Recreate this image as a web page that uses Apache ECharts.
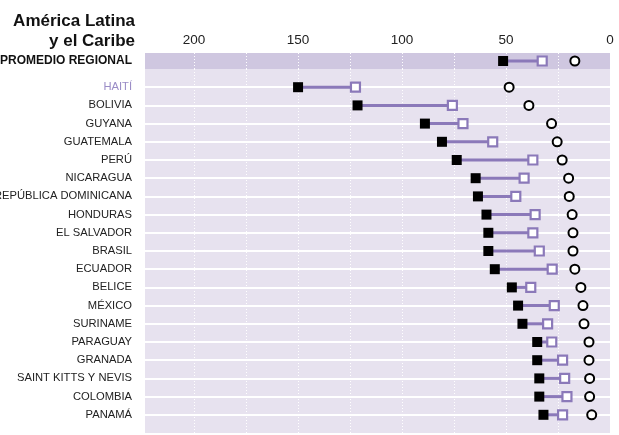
<!DOCTYPE html>
<html><head><meta charset="utf-8">
<script src="https://cdn.jsdelivr.net/npm/echarts@6/dist/echarts.min.js"></script>
<style>html,body{margin:0;padding:0;background:#fff}#c{width:619px;height:435px}</style>
</head><body><div id="c"></div>
<script>
// ---- data ----
const categories = ['HAITÍ','BOLIVIA','GUYANA','GUATEMALA','PERÚ','NICARAGUA','REPÚBLICA DOMINICANA','HONDURAS','EL SALVADOR','BRASIL','ECUADOR','BELICE','MÉXICO','SURINAME','PARAGUAY','GRANADA','SAINT KITTS Y NEVIS','COLOMBIA','PANAMÁ'];
const blackVals  = [150, 121.4, 89.0, 80.8, 73.7, 64.6, 63.5, 59.4, 58.5, 58.5, 55.4, 47.2, 44.2, 42.1, 35.0, 35.0, 34.0, 34.0, 32.0];
const hollowVals = [122.4, 75.8, 70.7, 56.4, 37.1, 41.3, 45.3, 36.0, 37.1, 34.0, 27.8, 38.1, 26.8, 30.0, 28.0, 22.8, 21.8, 20.7, 22.8];
const circleVals = [48.5, 39.0, 28.1, 25.4, 23.0, 19.9, 19.6, 18.2, 17.8, 17.8, 16.9, 14.0, 13.0, 12.5, 10.1, 10.1, 9.8, 9.8, 8.8];
const regionCategory = ['PROMEDIO REGIONAL'];
const regionBlack = [51.4];
const regionHollow = [32.6];
const regionCircle = [16.9];
const xTickLabels = [0, 50, 100, 150, 200];
const highlighted = 'HAITÍ';

// ---- font detection ----
function hasFont(name){
  const c = document.createElement('canvas').getContext('2d');
  const t = 'SAINT KITTS Y NEVIS 0123';
  c.font = '40px monospace'; const a = c.measureText(t).width;
  c.font = '40px "' + name + '", monospace'; const b = c.measureText(t).width;
  return Math.abs(a - b) > 0.5;
}
const narrow = hasFont('Liberation Sans Narrow');
const labFont = narrow ? '"Liberation Sans Narrow"' : '"Liberation Sans"';
const labSize = narrow ? 13 : 11.2;
const tickSize = narrow ? 16 : 13.5;

const purple = '#8b79b9';
const xMin = 0, xMax = 223.6;

const chart = echarts.init(document.getElementById('c'), null, {renderer:'canvas'});

function idx(arr){ return arr.map((v,i)=>[v,i]); }
function lineSeries(xi, yi, a, b){
  return {
    type:'custom', xAxisIndex:xi, yAxisIndex:yi, z:2,
    renderItem:function(params, api){
      const p1 = api.coord([api.value(0), api.value(2)]);
      const p2 = api.coord([api.value(1), api.value(2)]);
      return {type:'line', shape:{x1:p1[0],y1:p1[1],x2:p2[0],y2:p2[1]}, style:{stroke:purple, lineWidth:3}};
    },
    encode:{x:[0,1], y:2},
    data: a.map((v,i)=>[v, b[i], i]),
    silent:true
  };
}
function blackSeries(xi, yi, arr){
  return {type:'scatter', xAxisIndex:xi, yAxisIndex:yi, z:4, symbol:'rect', symbolSize:10,
    itemStyle:{color:'#000', opacity:1}, data: idx(arr), silent:true};
}
function hollowSeries(xi, yi, arr){
  return {type:'scatter', xAxisIndex:xi, yAxisIndex:yi, z:4, symbol:'rect', symbolSize:9,
    itemStyle:{color:'#fff', opacity:1, borderColor:purple, borderWidth:2.2}, data: idx(arr), silent:true};
}
function circleSeries(xi, yi, arr){
  return {type:'scatter', xAxisIndex:xi, yAxisIndex:yi, z:4, symbol:'circle', symbolSize:9,
    itemStyle:{color:'#fff', opacity:1, borderColor:'#000', borderWidth:2}, data: idx(arr), silent:true};
}

const vSplit = {show:true, showMaxLine:false, showMinLine:false, lineStyle:{color:'#ffffff', width:1, type:[1,2]}};

chart.setOption({
  animation:false,
  title:{
    text:'América Latina\ny el Caribe', left:135, top:11, textAlign:'right', padding:0,
    textStyle:{fontFamily:'"Liberation Sans", Arial, sans-serif', fontSize:17, fontWeight:'bold', color:'#111', lineHeight:20}
  },
  grid:[
    {left:145, right:9, top:69, height:364, show:true, backgroundColor:'#e7e2ef', borderWidth:0, containLabel:false, outerBoundsMode:'none'},
    {left:145, right:9, top:53, height:16, show:true, backgroundColor:'#cfc7e0', borderWidth:0, containLabel:false, outerBoundsMode:'none'}
  ],
  xAxis:[
    {gridIndex:0, type:'value', inverse:true, min:xMin, max:xMax, interval:25, position:'top',
     axisLine:{show:false}, axisTick:{show:false}, axisLabel:{show:false}, splitLine:vSplit},
    {gridIndex:1, type:'value', inverse:true, min:xMin, max:xMax, interval:25, position:'top',
     axisLine:{show:false}, axisTick:{show:false},
     axisLabel:{show:true, margin:6, fontFamily:labFont, fontSize:tickSize, color:'#222',
       formatter:function(v){ return xTickLabels.indexOf(v) >= 0 ? String(v) : ''; }},
     splitLine:vSplit}
  ],
  yAxis:[
    {gridIndex:0, type:'value', inverse:true, min:-1, max:categories.length, interval:1,
     axisLine:{show:false}, axisTick:{show:false},
     splitLine:{show:true, showMinLine:false, showMaxLine:false, lineStyle:{color:'#ffffff', width:2}},
     axisLabel:{margin:13, fontFamily:labFont, fontSize:labSize,
       formatter:function(v){ return (v >= 0 && v < categories.length && Math.round(v) === v) ? categories[v] : ''; },
       color:function(v){ return categories[v] === highlighted ? '#9a8cc6' : '#222'; }}},
    {gridIndex:1, type:'category', data:regionCategory, inverse:true,
     axisLine:{show:false}, axisTick:{show:false}, splitLine:{show:false},
     axisLabel:{margin:13, fontFamily:'"Liberation Sans", Arial, sans-serif', fontSize:12, fontWeight:'bold', color:'#111'}}
  ],
  series:[
    lineSeries(0,0,blackVals,hollowVals),
    blackSeries(0,0,blackVals),
    hollowSeries(0,0,hollowVals),
    circleSeries(0,0,circleVals),
    lineSeries(1,1,regionBlack,regionHollow),
    blackSeries(1,1,regionBlack),
    hollowSeries(1,1,regionHollow),
    circleSeries(1,1,regionCircle)
  ]
});
</script></body></html>
